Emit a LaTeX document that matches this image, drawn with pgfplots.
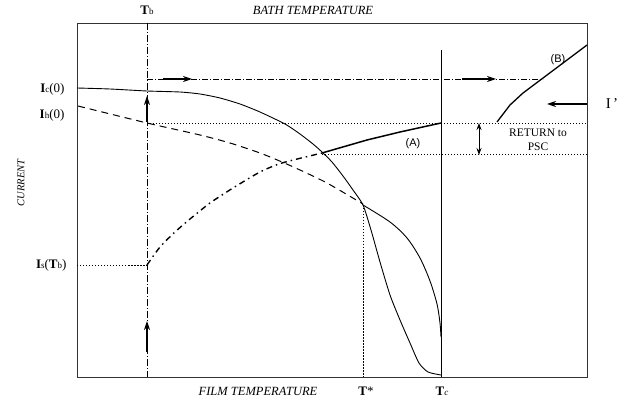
\documentclass[border=0pt]{standalone}
\usepackage{pgfplots}
\pgfplotsset{compat=1.18}
\usepackage{fontspec}
\setmainfont{Liberation Serif}
\setsansfont{Liberation Sans}
\usetikzlibrary{arrows.meta}
\begin{document}
\begin{tikzpicture}
\begin{axis}[
  scale only axis, width=510pt, height=354pt,
  xmin=77, xmax=587, ymin=23, ymax=377, y dir=reverse,
  xtick=\empty, ytick=\empty, clip=false,
  axis line style={line width=0.7pt, black!80},
]
% Ic curve (solid) continuing into steep lower branch
\addplot[black, line width=0.9pt, smooth, tension=0.4] coordinates {
(77,88) (110,89) (147,91) (180,92) (200,94) (220,98) (240,104) (260,112) (285,124) (300,134) (313,144) (322,152) (332,162) (343,176) (353,190) (363,205) (371,230) (380,262) (390,295) (400,320) (410,343) (419,363) (428,372) (441,375)};
% upper solid branch (continuation of Ih)
\addplot[black, line width=0.9pt, smooth, tension=0.5] coordinates {
(363,205) (390,222) (407,238) (420,258) (430,281) (437,304) (440,323) (441,337)};
% Ih dashed
\addplot[black, line width=1pt, dash pattern=on 7pt off 5pt, smooth, tension=0.4] coordinates {
(78,106) (147,123) (200,135) (230,143) (260,153) (282,162) (300,170) (327,183) (363,204)};
% rising dash-dot curve from Is(Tb)
\addplot[black, line width=1.4pt, dash pattern=on 6pt off 4pt on 1.5pt off 4pt, smooth, tension=0.4] coordinates {
(147,265) (160,247) (175,232) (190,219) (210,203) (233,188) (260,172) (282,163) (322,153)};
% (A)
\addplot[black, line width=1.5pt] coordinates {(322,153) (367,140) (400,132) (441,123)};
% (B)
\addplot[black, line width=1.3pt] coordinates {(497,122) (510,105) (523,93) (543,78) (567,60) (587,45)};
% Tb line
\addplot[black, line width=0.8pt, dash pattern=on 7pt off 2pt on 1pt off 2pt] coordinates {(147,23) (147,377)};
% Tc line
\addplot[black, line width=0.9pt] coordinates {(441,50) (441,377)};
% T* dotted
\addplot[black, line width=0.5pt, dash pattern=on 1.5pt off 1.5pt] coordinates {(363,205) (363,377)};
% dotted horizontals
\addplot[black, line width=0.6pt, dash pattern=on 1pt off 2pt] coordinates {(147,123) (587,123)};
\addplot[black, line width=0.6pt, dash pattern=on 1pt off 2pt] coordinates {(322,154) (587,154)};
\addplot[black, line width=0.6pt, dash pattern=on 1.5pt off 1.5pt] coordinates {(77,265) (147,265)};
% dash-dot horizontal at top
\addplot[black, line width=0.7pt, dash pattern=on 6pt off 2pt on 1pt off 2pt] coordinates {(147,79) (543,79)};
% arrows
\addplot[black, line width=1.1pt, -{Stealth[length=9pt,width=6pt]}] coordinates {(163,79) (192,79)};
\addplot[black, line width=1.1pt, -{Stealth[length=9pt,width=6pt]}] coordinates {(462,79) (496,79)};
\addplot[black, line width=1.1pt, -{Stealth[length=9pt,width=6pt]}] coordinates {(147,122) (147,96)};
\addplot[black, line width=1.1pt, -{Stealth[length=9pt,width=6pt]}] coordinates {(147,352) (147,321)};
\addplot[black, line width=1.1pt, -{Stealth[length=9pt,width=6pt]}] coordinates {(587,104) (547,104)};
\addplot[black, line width=0.9pt, {Stealth[length=7pt,width=5pt]}-{Stealth[length=7pt,width=5pt]}] coordinates {(479,123) (479,155)};
% labels
\node[anchor=east, font=\fontsize{13}{13}\selectfont] at (axis cs:68,89) {\textbf{I}{\fontsize{9}{9}\selectfont c}(0)};
\node[anchor=east, font=\fontsize{13}{13}\selectfont] at (axis cs:68,115) {\textbf{I}{\fontsize{9}{9}\selectfont h}(0)};
\node[anchor=east, font=\fontsize{13}{13}\selectfont] at (axis cs:70,265) {\textbf{I}{\fontsize{9}{9}\selectfont s}(\textbf{T}{\fontsize{9}{9}\selectfont b})};
\node[font=\fontsize{13}{13}\selectfont] at (axis cs:147,10) {\textbf{T}{\fontsize{9}{9}\selectfont b}};
\node[font=\fontsize{12.5}{12.5}\selectfont\itshape] at (axis cs:313,10) {BATH TEMPERATURE};
\node[font=\fontsize{12.5}{12.5}\selectfont\itshape] at (axis cs:258,391) {FILM TEMPERATURE};
\node[font=\fontsize{13}{13}\selectfont] at (axis cs:366,391) {\textbf{T}*};
\node[font=\fontsize{13}{13}\selectfont] at (axis cs:442,391) {\textbf{T}{\fontsize{9}{9}\selectfont\itshape c}};
\node[rotate=90, font=\fontsize{10.5}{10.5}\selectfont\itshape] at (axis cs:21,183) {CURRENT};
\node[font=\fontsize{11}{11}\selectfont\sffamily] at (axis cs:413,144) {(A)};
\node[font=\fontsize{11}{11}\selectfont\sffamily] at (axis cs:558,60) {(B)};
\node[font=\fontsize{11.5}{11.5}\selectfont] at (axis cs:538,133) {RETURN to};
\node[font=\fontsize{11.5}{11.5}\selectfont] at (axis cs:538,147) {PSC};
\node[font=\fontsize{15}{15}\selectfont] at (axis cs:612,104) {I\,'};
\coordinate (bl) at (axis cs:0,401);
\coordinate (tr) at (axis cs:627,0);
\end{axis}
\pgfresetboundingbox
\path (bl) rectangle (tr);
\end{tikzpicture}
\end{document}
